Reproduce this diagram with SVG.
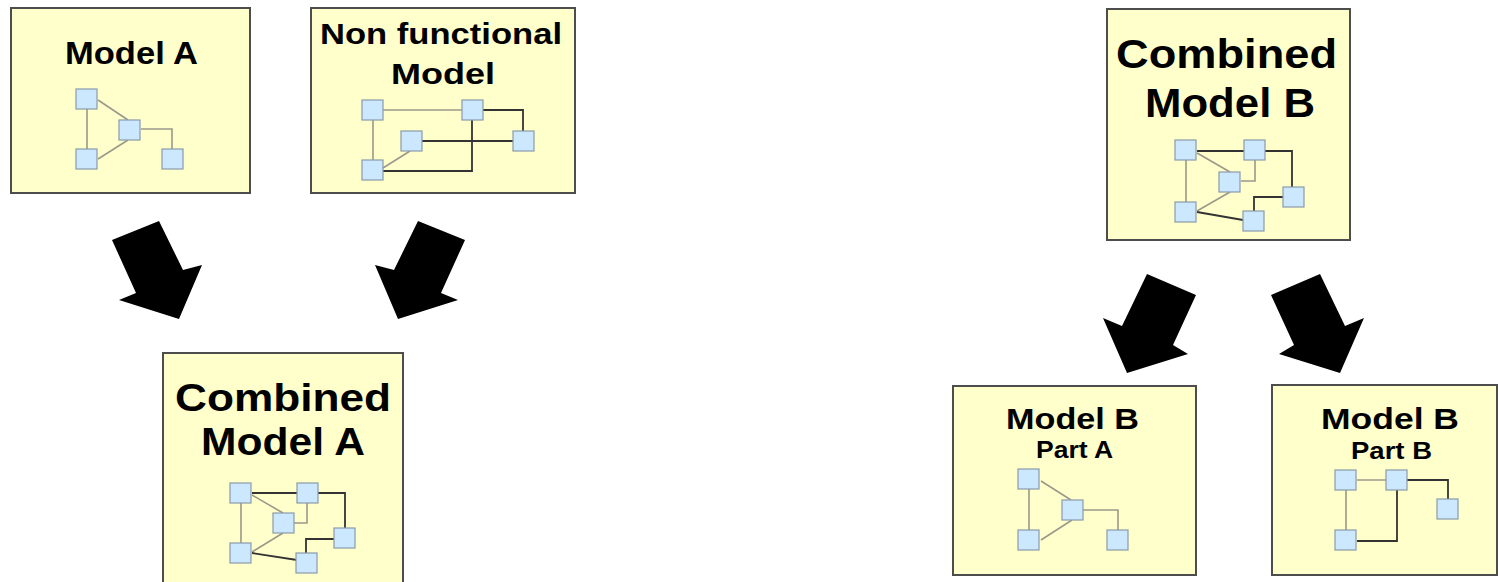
<svg xmlns="http://www.w3.org/2000/svg" width="1498" height="582" viewBox="0 0 1498 582">
<style>
.box{fill:#ffffcc;stroke:#4d4d4d;stroke-width:2}
.sq{fill:#cce8ff;stroke:#8a9aaa;stroke-width:1.2}
.lg{fill:none;stroke:#9a9a8a;stroke-width:1.6}
.ld{fill:none;stroke:#333;stroke-width:1.8}
.t{font-family:"Liberation Sans",Arial,sans-serif;font-weight:bold;fill:#000}
.arrow{fill:#000}
</style>
<defs>
<rect id="s" class="sq" width="21" height="20"/>
</defs>
<rect width="1498" height="582" fill="#fff"/>

<g id="model-a">
<rect class="box" x="11" y="8" width="239" height="185"/>
<text class="t" x="65" y="64" font-size="31" textLength="133" lengthAdjust="spacingAndGlyphs">Model A</text>
<path class="lg" d="M87,109 V149 M98,100 L128,120 M98,159 L128,140 M141,129 H172 V149"/>
<use href="#s" x="76" y="89"/><use href="#s" x="119" y="120"/><use href="#s" x="76" y="149"/><use href="#s" x="162" y="149"/>
</g>

<g id="non-functional-model">
<rect class="box" x="311" y="8" width="264" height="185"/>
<text class="t" x="320" y="44" font-size="30" textLength="242" lengthAdjust="spacingAndGlyphs">Non functional</text>
<text class="t" x="391" y="84" font-size="30" textLength="104" lengthAdjust="spacingAndGlyphs">Model</text>
<path class="lg" d="M383,110 H462 M373,120 V160 M383,168 L410,151"/>
<path class="ld" d="M422,141 H513 M483,110 H523 V131 M472,120 V171 H383"/>
<use href="#s" x="362" y="100"/><use href="#s" x="462" y="100"/><use href="#s" x="401" y="131"/><use href="#s" x="513" y="131"/><use href="#s" x="362" y="160"/>
</g>

<g id="combined-model-a">
<rect class="box" x="163" y="353" width="240" height="240"/>
<text class="t" x="175" y="411" font-size="38" textLength="216" lengthAdjust="spacingAndGlyphs">Combined</text>
<text class="t" x="201" y="455" font-size="38" textLength="164" lengthAdjust="spacingAndGlyphs">Model A</text>
<path class="lg" d="M241,503 V543 M252,495 L283,513 M307,503 V523 H294 M283,533 L252,552"/>
<path class="ld" d="M252,493 H297 M252,553 L297,560 M318,493 H345 V528 M306,553 V539 H334"/>
<use href="#s" x="230" y="483"/><use href="#s" x="297" y="483"/><use href="#s" x="273" y="513"/><use href="#s" x="334" y="528"/><use href="#s" x="230" y="543"/><use href="#s" x="296" y="553"/>
</g>

<g id="combined-model-b">
<rect class="box" x="1107" y="9" width="243" height="231"/>
<text class="t" x="1116" y="68" font-size="40" textLength="221" lengthAdjust="spacingAndGlyphs">Combined</text>
<text class="t" x="1145" y="117" font-size="40" textLength="170" lengthAdjust="spacingAndGlyphs">Model B</text>
<path class="lg" d="M1186,160 V202 M1197,153 L1230,172 M1255,160 V181 H1241 M1230,192 L1197,211"/>
<path class="ld" d="M1197,151 H1244 M1197,212 L1243,220 M1265,151 H1292 V187 M1254,211 V197 H1283"/>
<use href="#s" x="1175" y="140"/><use href="#s" x="1244" y="140"/><use href="#s" x="1219" y="172"/><use href="#s" x="1283" y="187"/><use href="#s" x="1175" y="202"/><use href="#s" x="1243" y="211"/>
</g>

<g id="model-b-part-a">
<rect class="box" x="953" y="386" width="243" height="189"/>
<text class="t" x="1006" y="429" font-size="30" textLength="133" lengthAdjust="spacingAndGlyphs">Model B</text>
<text class="t" x="1036" y="458" font-size="23" textLength="77" lengthAdjust="spacingAndGlyphs">Part A</text>
<path class="lg" d="M1029,489 V530 M1041,481 L1071,500 M1041,540 L1072,520 M1083,510 H1118 V530"/>
<use href="#s" x="1018" y="469"/><use href="#s" x="1062" y="500"/><use href="#s" x="1018" y="530"/><use href="#s" x="1107" y="530"/>
</g>

<g id="model-b-part-b">
<rect class="box" x="1272" y="385" width="225" height="190"/>
<text class="t" x="1321" y="429" font-size="30" textLength="138" lengthAdjust="spacingAndGlyphs">Model B</text>
<text class="t" x="1351" y="459" font-size="23" textLength="81" lengthAdjust="spacingAndGlyphs">Part B</text>
<path class="lg" d="M1357,480 H1386 M1346,490 V530"/>
<path class="ld" d="M1407,480 H1448 V499 M1397,490 V541 H1357"/>
<use href="#s" x="1335" y="470"/><use href="#s" x="1386" y="470"/><use href="#s" x="1437" y="499"/><use href="#s" x="1335" y="530"/>
</g>

<g id="connectors">
<polygon class="arrow" points="112,240 159,221 183,270 202,265 179,319 119,300 136,293"/>
<polygon class="arrow" points="465,240 418,221 394,270 375,265 398,319 458,300 441,293"/>
<polygon class="arrow" points="1147,274 1196,295 1173,345 1188,354 1127,373 1103,318 1122,326"/>
<polygon class="arrow" points="1320,274 1271,295 1294,345 1279,354 1340,373 1364,318 1345,326"/>
</g>
</svg>
